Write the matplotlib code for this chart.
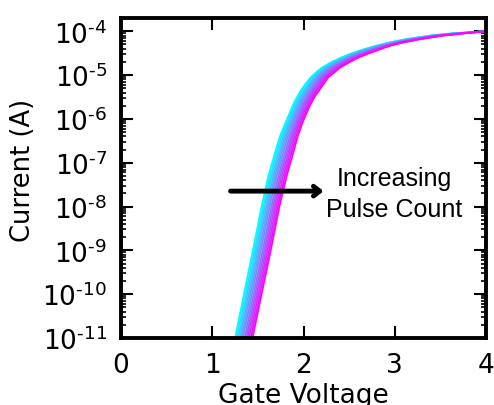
import matplotlib
matplotlib.use('Agg')
import matplotlib.pyplot as plt
import numpy as np

# log10 of current levels (A) shared by all curves
log_current = [-11.2, -11.0, -10.0, -9.0, -8.0, -7.3, -6.75, -6.4, -6.1, -5.85,
               -5.65, -5.5, -5.35, -5.2, -5.05, -4.95, -4.83, -4.72, -4.6, -4.5,
               -4.41, -4.33, -4.26, -4.18, -4.1, -4.05, -4.0]

# gate voltage reached at each level: first pulse (cyan) and last pulse (magenta)
v_first = [1.23, 1.25, 1.347, 1.445, 1.54, 1.615, 1.69, 1.74, 1.80, 1.85,
           1.89, 1.93, 1.97, 2.02, 2.08, 2.13, 2.20, 2.29, 2.41, 2.53,
           2.66, 2.79, 2.93, 3.12, 3.38, 3.62, 4.0]
v_last = [1.42, 1.44, 1.54, 1.64, 1.735, 1.815, 1.89, 1.935, 1.985, 2.035,
          2.08, 2.12, 2.17, 2.22, 2.27, 2.33, 2.40, 2.49, 2.60, 2.72,
          2.84, 2.95, 3.08, 3.28, 3.52, 3.75, 4.0]

# position of each pulse-count curve inside the band (0 = first, 1 = last)
pulse_pos = [0.0, 0.09, 0.18, 0.27, 0.36, 0.45, 0.55, 0.64, 0.73, 0.82, 0.91, 1.0]

yticks_exp = [-11, -10, -9, -8, -7, -6, -5, -4]
xticks = [0, 1, 2, 3, 4]

current = 10.0 ** np.array(log_current)
v_first = np.array(v_first)
v_last = np.array(v_last)

fig = plt.figure(figsize=(4.94, 4.06), dpi=100)
ax = fig.add_axes([0.245, 0.165, 0.739, 0.788])

for p in pulse_pos:
    v = v_first + p * (v_last - v_first)
    ax.plot(v, current, color=plt.cm.cool(p), lw=1.3)

ax.set_yscale('log')
ax.set_xlim(0, 4)
ax.set_ylim(1e-11, 2e-4)

ax.set_xticks(xticks)
ax.set_xticklabels([str(t) for t in xticks], fontsize=19)
ax.set_yticks([10.0 ** e for e in yticks_exp])
ax.set_yticklabels(['10$^{\u2010%d}$' % (-e) for e in yticks_exp], fontsize=19)

ax.tick_params(which='both', direction='in', top=True, right=True)
ax.tick_params(which='major', length=8.5, width=1.5, pad=10)
ax.tick_params(which='minor', length=3.5, width=1.2)
for s in ax.spines.values():
    s.set_linewidth(2.8)

ax.set_xlabel('Gate Voltage', fontsize=19, labelpad=3)
ax.set_ylabel('Current (A)', fontsize=18.5)
ax.yaxis.set_label_coords(-0.233, 0.528)

ax.annotate('', xy=(2.22, 2.25e-8), xytext=(1.2, 2.25e-8),
            arrowprops=dict(arrowstyle='->,head_length=0.45,head_width=0.35',
                            lw=3.5, color='black', shrinkA=0, shrinkB=0))
ax.text(2.99, 2.0e-8, 'Increasing\nPulse Count', family='Liberation Sans',
        fontsize=18, ha='center', va='center', linespacing=1.35)

fig.savefig('out.png', dpi=100)
